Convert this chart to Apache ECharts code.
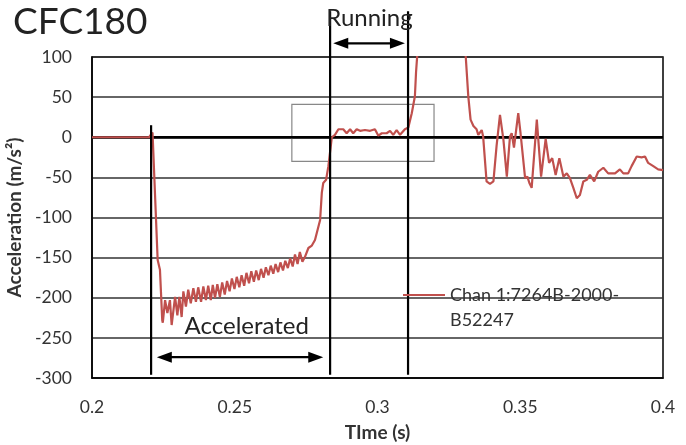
<!DOCTYPE html>
<html>
<head>
<meta charset="utf-8">
<script src="https://cdn.jsdelivr.net/npm/echarts@6/dist/echarts.min.js"></script>
<style>html,body{margin:0;padding:0;background:#fff}#main{width:686px;height:445px}</style>
</head>
<body>
<div id="main"></div>
<script>
// ---- data ----
const xTicks = [0.2, 0.25, 0.3, 0.35, 0.4];
const yTicks = [-300, -250, -200, -150, -100, -50, 0, 50, 100];
const seriesName = 'Chan 1:7264B-2000-B52247';
const times = [
0.2000,0.2050,0.2100,0.2150,0.2200,0.2207,0.2212,0.2217,0.2230,0.2238,
0.2246,0.2248,0.2256,0.2264,0.2273,0.2279,0.2291,0.2299,0.2306,0.2314,
0.2320,0.2329,0.2337,0.2346,0.2355,0.2364,0.2372,0.2382,0.2390,0.2399,
0.2407,0.2416,0.2423,0.2431,0.2439,0.2448,0.2456,0.2465,0.2473,0.2482,
0.2490,0.2499,0.2507,0.2516,0.2524,0.2533,0.2541,0.2550,0.2558,0.2567,
0.2575,0.2584,0.2592,0.2601,0.2609,0.2618,0.2626,0.2635,0.2643,0.2652,
0.2660,0.2669,0.2677,0.2686,0.2694,0.2703,0.2711,0.2720,0.2728,0.2737,
0.2746,0.2758,0.2770,0.2781,0.2787,0.2799,0.2805,0.2810,0.2820,0.2828,
0.2840,0.2851,0.2863,0.2869,0.2880,0.2892,0.2904,0.2915,0.2927,0.2939,
0.2956,0.2974,0.2991,0.3003,0.3015,0.3032,0.3044,0.3055,0.3067,0.3079,
0.3096,0.3108,0.3120,0.3131,0.3135,0.3139,0.3160,0.3200,0.3260,0.3290,
0.3309,0.3318,0.3326,0.3336,0.3347,0.3353,0.3365,0.3370,0.3382,0.3394,
0.3406,0.3417,0.3429,0.3441,0.3453,0.3464,0.3470,0.3478,0.3493,0.3501,
0.3517,0.3525,0.3532,0.3540,0.3558,0.3573,0.3589,0.3601,0.3612,0.3624,
0.3637,0.3651,0.3663,0.3674,0.3686,0.3698,0.3709,0.3721,0.3733,0.3744,
0.3759,0.3773,0.3791,0.3808,0.3832,0.3849,0.3861,0.3878,0.3890,0.3908,
0.3925,0.3937,0.3948,0.3966,0.3983,0.4000];
const accel = [
0,0,0,0,0,2,6,5,-153,-165,
-228,-231,-203,-219,-203,-234,-199,-222,-199,-224,
-192,-211,-190,-207,-188,-205,-187,-205,-186,-203,
-185,-203,-184,-200,-183,-199,-181,-196,-179,-192,
-176,-189,-174,-187,-172,-185,-169,-182,-167,-180,
-166,-178,-164,-175,-162,-172,-160,-170,-158,-168,
-156,-166,-154,-163,-151,-161,-146,-158,-143,-155,
-149,-138,-135,-128,-130,-103,-69,-57,-53,-36,
0,3,10,8,10,5,10,5,10,8,
9,8,10,2,5,5,8,3,9,3,
10,12,30,51,81,101,220,330,310,190,
101,51,22,14,10,3,9,1,-55,-58,
-55,-11,28,-3,-49,1,5,-13,30,5,
-51,-49,-57,-63,22,-49,-2,-32,-26,-47,
-26,-49,-45,-51,-63,-76,-72,-55,-53,-47,
-55,-43,-38,-45,-45,-40,-45,-45,-36,-24,
-25,-24,-32,-36,-40,-41];
// annotation positions in data units
const markerTimes = [0.2207, 0.2834, 0.3107];
const markerTops = [15, 157, 157];
const markerBottom = -296;
const zoomBox = [[0.2700, 41], [0.3198, -30]];
const runningArrow = [[0.2845, 117], [0.3096, 117]];
const accelArrow = [[0.2227, -274], [0.2810, -274]];
const runningLabel = {text: 'Running', t: 0.2972, v: 148};
const accelLabel = {text: 'Accelerated', t: 0.2542, v: -235};

const FONT = 'Lato, "Liberation Sans", sans-serif';
const pairs = times.map((t, i) => [t, accel[i]]);

const markerSeries = markerTimes.map((t, i) => ({
  type: 'line', data: [[t, markerTops[i]], [t, markerBottom]],
  symbol: 'none', clip: false, z: 5, silent: true,
  lineStyle: {color: '#000', width: 2.2}
}));

const option = {
  animation: false,
  title: {text: 'CFC180', left: 8, top: -1,
    textStyle: {fontFamily: FONT, fontSize: 37, fontWeight: 'normal', color: '#222'}},
  grid: {left: 92, right: 23, top: 57, bottom: 67, outerBoundsMode: 'none', containLabel: false,
    show: true, borderColor: '#000', borderWidth: 1.5},
  xAxis: {type: 'value', min: 0.2, max: 0.4, interval: 0.05,
    name: 'TIme (s)', nameLocation: 'middle', nameGap: 45,
    nameTextStyle: {fontFamily: FONT, fontSize: 19, fontWeight: 'bold', color: '#333'},
    axisLine: {onZero: false, lineStyle: {color: '#000', width: 1.5}},
    axisTick: {show: false}, splitLine: {show: false},
    axisLabel: {fontFamily: FONT, fontSize: 17.5, color: '#333', margin: 20,
      formatter: v => { const s = xTicks.find(x => Math.abs(x - v) < 1e-9); return s === undefined ? '' : String(s); }}
  },
  yAxis: {type: 'value', min: -300, max: 100, interval: 50,
    name: 'Acceleration (m/s²)', nameLocation: 'middle', nameGap: 66,
    nameTextStyle: {fontFamily: FONT, fontSize: 19, fontWeight: 'bold', color: '#333'},
    axisLine: {show: true, lineStyle: {color: '#000', width: 1.5}},
    axisTick: {show: false},
    splitLine: {lineStyle: {color: '#333', width: 1.5}},
    axisLabel: {fontFamily: FONT, fontSize: 17.5, color: '#333', margin: 20,
      formatter: v => { const s = yTicks.find(y => y === v); return s === undefined ? '' : String(s); }}
  },
  series: [
    {type: 'line', name: 'zero', data: [[0.2, 0], [0.4, 0]], symbol: 'none', z: 1, silent: true,
      lineStyle: {color: '#000', width: 2.5}},
    {type: 'line', name: seriesName, data: pairs, symbol: 'none', z: 3,
      lineStyle: {color: '#c0504d', width: 2.2},
      markArea: {silent: true, itemStyle: {color: 'rgba(0,0,0,0)', borderColor: '#888', borderWidth: 1.2},
        data: [[{coord: zoomBox[0]}, {coord: zoomBox[1]}]]}
    },
    ...markerSeries
  ]
};

const chart = echarts.init(document.getElementById('main'));
chart.setOption(option);

const P = (t, v) => chart.convertToPixel({gridIndex: 0}, [t, v]);
function arrow(a, b) {
  const p1 = P(a[0], a[1]), p2 = P(b[0], b[1]);
  const L = 15, H = 5.5, y = p1[1];
  return [
    {type: 'line', shape: {x1: p1[0] + L - 2, y1: y, x2: p2[0] - L + 2, y2: y}, style: {stroke: '#000', lineWidth: 2.2}, z: 10},
    {type: 'polygon', shape: {points: [[p1[0], y], [p1[0] + L, y - H], [p1[0] + L, y + H]]}, style: {fill: '#000'}, z: 10},
    {type: 'polygon', shape: {points: [[p2[0], y], [p2[0] - L, y - H], [p2[0] - L, y + H]]}, style: {fill: '#000'}, z: 10}
  ];
}
function label(o) {
  const p = P(o.t, o.v);
  return {type: 'text', x: p[0], y: p[1], z: 10,
    style: {text: o.text, fontFamily: FONT, fontSize: 24, fill: '#222', align: 'center', verticalAlign: 'middle'}};
}
const g = [
  ...arrow(runningArrow[0], runningArrow[1]),
  ...arrow(accelArrow[0], accelArrow[1]),
  label(runningLabel), label(accelLabel),
  // legend
  {type: 'line', shape: {x1: 403, y1: 295, x2: 445, y2: 295}, style: {stroke: '#c0504d', lineWidth: 2}, z: 10},
  {type: 'text', x: 450, y: 295 - 12.5, z: 10,
    style: {text: 'Chan 1:7264B-2000-\nB52247', fontFamily: FONT, fontSize: 18, lineHeight: 25, fill: '#333', verticalAlign: 'top'}}
];
chart.setOption({graphic: g});
</script>
</body>
</html>
